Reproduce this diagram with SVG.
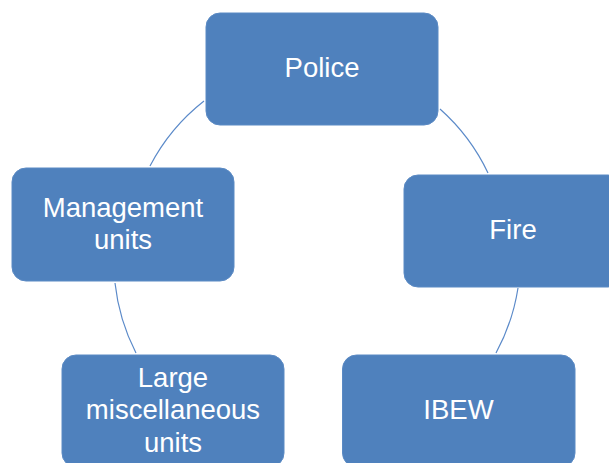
<svg xmlns="http://www.w3.org/2000/svg" width="609" height="463" viewBox="0 0 609 463">
<style>
.box{fill:#4F81BD;stroke:#5B8AC4;stroke-width:1}
.lbl{font-family:"Liberation Sans",Arial,sans-serif;font-size:27.5px;fill:#FFFFFF;text-anchor:middle}
.conn{fill:none;stroke:#5B8AC9;stroke-width:1.2}
</style>
<rect width="609" height="463" fill="#FFFFFF"/>
<g id="connectors">
<path class="conn" d="M150,166 A200,200 0 0 1 204,101"/>
<path class="conn" d="M440,109 A200,200 0 0 1 488,173"/>
<path class="conn" d="M518,288 A200,200 0 0 1 496,353"/>
<path class="conn" d="M136,353 A200,200 0 0 1 115,283"/>
</g>
<g id="police">
<rect class="box" x="206" y="13" width="232" height="112" rx="14"/>
<text class="lbl" x="322" y="77">Police</text>
</g>
<g id="management">
<rect class="box" x="12" y="168" width="222" height="113" rx="14"/>
<text class="lbl" x="123" y="217">Management</text>
<text class="lbl" x="123" y="249">units</text>
</g>
<g id="fire">
<rect class="box" x="404" y="175" width="218" height="112" rx="14"/>
<text class="lbl" x="513" y="239">Fire</text>
</g>
<g id="large">
<rect class="box" x="62" y="355" width="222" height="112" rx="14"/>
<text class="lbl" x="173" y="387">Large</text>
<text class="lbl" x="173" y="419">miscellaneous</text>
<text class="lbl" x="173" y="452">units</text>
</g>
<g id="ibew">
<rect class="box" x="342.5" y="355" width="232.5" height="112" rx="14"/>
<text class="lbl" x="458.5" y="419">IBEW</text>
</g>
</svg>
